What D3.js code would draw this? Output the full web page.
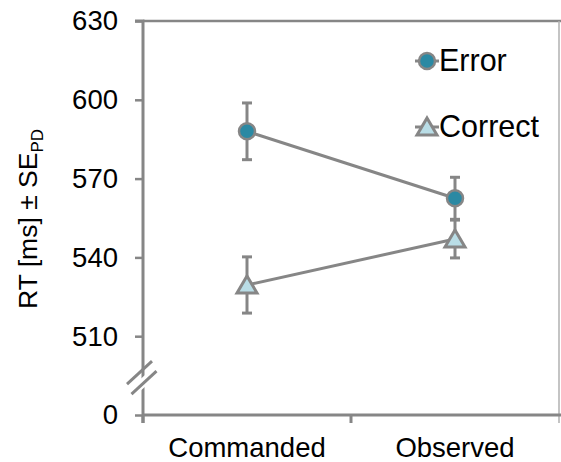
<!DOCTYPE html>
<html><head><meta charset="utf-8">
<script src="https://cdn.jsdelivr.net/npm/d3@7"></script>
<style>body{margin:0;background:#fff}svg{display:block}text{font-family:Arial,"Liberation Sans",sans-serif;fill:#000}</style>
</head><body>
<svg id="c" width="561" height="462"></svg>
<script>
const categories = ["Commanded", "Observed"];
const errorMean = [588, 562.5];
const errorSE = [10.8, 8];
const correctMean = [529.5, 547];
const correctSE = [10.7, 7.2];
const yTicks = [480, 510, 540, 570, 600, 630];
const yTickLabels = ["0", "510", "540", "570", "600", "630"];
const seriesNames = ["Error", "Correct"];

(function () {
const svg = d3.select("#c");
const gray = "#868686";
const pL = 143, pR = 559, pT = 21, pB = 415;
const x = d3.scaleBand().domain(categories).range([pL, pR]).padding(0);
const y = d3.scaleLinear().domain([480, 630]).range([pB, pT]);
const fs = 27.5;

// frame top and right
svg.append("line").attr("x1", pL).attr("x2", 561).attr("y1", pT).attr("y2", pT)
  .attr("stroke", gray).attr("stroke-width", 2.5);
svg.append("line").attr("x1", pR).attr("x2", pR).attr("y1", pT).attr("y2", pB + 8)
  .attr("stroke", "#b0b0b0").attr("stroke-width", 1.5);

// y axis
const yAxis = d3.axisLeft(y).tickValues(yTicks).tickSize(8).tickPadding(17)
  .tickFormat((d, i) => yTickLabels[i]);
const gy = svg.append("g").attr("transform", `translate(${pL},0)`).call(yAxis);
gy.select(".domain").attr("stroke", gray).attr("stroke-width", 3).attr("d", `M-8,${pT}H0V${pB + 8}`);
gy.selectAll(".tick line").attr("stroke", gray).attr("stroke-width", 2.5);
gy.selectAll(".tick text").attr("font-size", fs).attr("font-family", "Arial, Liberation Sans, sans-serif").attr("fill", "#000");

// x axis
const xAxis = d3.axisBottom(x).tickSize(8).tickPadding(14);
const gx = svg.append("g").attr("transform", `translate(0,${pB})`).call(xAxis);
gx.select(".domain").attr("stroke", gray).attr("stroke-width", 3).attr("d", `M${pL},0H561`);
gx.selectAll(".tick line").remove();
[pL, (pL + pR) / 2].forEach(px => {
  gx.append("line").attr("x1", px).attr("x2", px).attr("y1", 0).attr("y2", 8)
    .attr("stroke", gray).attr("stroke-width", 3);
});
gx.selectAll(".tick text").attr("font-size", fs).attr("font-family", "Arial, Liberation Sans, sans-serif").attr("fill", "#000");

// axis break
const by = y(494);
svg.append("path").attr("d", `M${pL - 13},${by + 10}L${pL + 12},${by - 12}L${pL + 14},${by - 2}L${pL - 11},${by + 20}Z`)
  .attr("fill", "#fff");
[0, 10].forEach(o => {
  svg.append("line").attr("x1", pL - 16 + o * 0.45).attr("y1", by + 6 + o)
    .attr("x2", pL + 9 + o * 0.45).attr("y2", by - 17 + o)
    .attr("stroke", gray).attr("stroke-width", 3);
});

// y label
const yl = svg.append("text").attr("transform", `translate(37,${(pT + pB) / 2 + 1}) rotate(-90)`)
  .attr("text-anchor", "middle").attr("font-size", 26.5);
yl.append("tspan").text("RT [ms] \u00B1 SE");
yl.append("tspan").text("PD").attr("font-size", 17).attr("dy", 6);

const cx = d => x(d) + x.bandwidth() / 2;
const circleFill = "#2b89a3", triFill = "#b9dde6";
const triPath = "M0,-9L10,8L-10,8Z";

function drawSeries(means, ses) {
  const line = d3.line().x((d, i) => cx(categories[i])).y(d => y(d));
  svg.append("path").datum(means).attr("d", line).attr("fill", "none")
    .attr("stroke", gray).attr("stroke-width", 3);
  means.forEach((m, i) => {
    const px = cx(categories[i]);
    const g = svg.append("g").attr("stroke", gray).attr("stroke-width", 3);
    g.append("line").attr("x1", px).attr("x2", px).attr("y1", y(m + ses[i])).attr("y2", y(m - ses[i]));
    [m + ses[i], m - ses[i]].forEach(v => g.append("line").attr("x1", px - 5).attr("x2", px + 5)
      .attr("y1", y(v)).attr("y2", y(v)));
  });
}
drawSeries(errorMean, errorSE);
drawSeries(correctMean, correctSE);

errorMean.forEach((m, i) => {
  svg.append("circle").attr("cx", cx(categories[i])).attr("cy", y(m)).attr("r", 8)
    .attr("fill", circleFill).attr("stroke", gray).attr("stroke-width", 2.5);
});
correctMean.forEach((m, i) => {
  svg.append("path").attr("d", triPath).attr("transform", `translate(${cx(categories[i])},${y(m)})`)
    .attr("fill", triFill).attr("stroke", gray).attr("stroke-width", 3).attr("stroke-linejoin", "miter");
});

// legend
const lg = svg.append("g");
const legendRows = [{name: seriesNames[0], y: 61, ty: 71}, {name: seriesNames[1], y: 127, ty: 137}];
legendRows.forEach((r, i) => {
  lg.append("line").attr("x1", 415).attr("x2", 439).attr("y1", r.y).attr("y2", r.y)
    .attr("stroke", gray).attr("stroke-width", 3);
  if (i === 0) {
    lg.append("circle").attr("cx", 427).attr("cy", r.y).attr("r", 8)
      .attr("fill", circleFill).attr("stroke", gray).attr("stroke-width", 2.5);
  } else {
    lg.append("path").attr("d", triPath).attr("transform", `translate(427,${r.y})`)
      .attr("fill", triFill).attr("stroke", gray).attr("stroke-width", 3);
  }
  lg.append("text").attr("x", 439).attr("y", r.ty).attr("font-size", 30.5).text(r.name);
});
})();
</script>
</body></html>
